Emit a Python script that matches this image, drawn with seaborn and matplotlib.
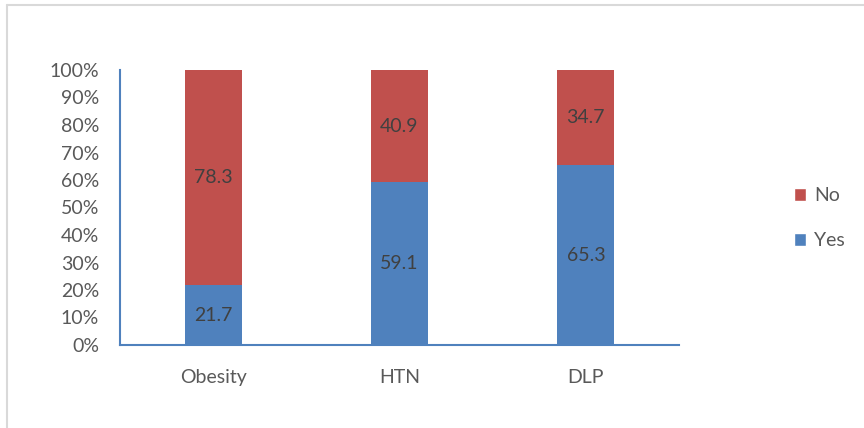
import matplotlib
matplotlib.use("Agg")
import matplotlib.pyplot as plt
from matplotlib.lines import Line2D
from matplotlib.patches import Patch
import seaborn as sns
import pandas as pd
import numpy as np

categories = ["Obesity", "HTN", "DLP"]
yes_values = [21.7, 59.1, 65.3]
no_values = [78.3, 40.9, 34.7]

BLUE = "#4F81BD"
RED = "#C0504D"
TEXT = "#595959"
LABEL = "#404040"
FS = 14

sns.set_theme(style="white")
plt.rcParams["font.family"] = ["Lato", "DejaVu Sans"]

df = pd.DataFrame({"cat": categories, "yes": yes_values, "no": no_values})
df["total"] = df["yes"] + df["no"]

fig = plt.figure(figsize=(8.64, 4.28), dpi=100)
ax = fig.add_axes([120 / 864, 1 - 345 / 428, 559 / 864, 275 / 428])

# stacked: full column in red, Yes portion drawn over it in blue
sns.barplot(data=df, x="cat", y="total", color=RED, width=0.306, saturation=1,
            ax=ax, linewidth=0)
sns.barplot(data=df, x="cat", y="yes", color=BLUE, width=0.306, saturation=1,
            ax=ax, linewidth=0)

for i, (y, n) in enumerate(zip(yes_values, no_values)):
    ax.text(i, y / 2, f"{y:.1f}", ha="center", va="center", fontsize=FS, color=LABEL)
    ax.text(i, y + n / 2, f"{n:.1f}", ha="center", va="center", fontsize=FS, color=LABEL)

ax.set_xlim(-0.5, 2.5)
ax.set_ylim(0, 100)
ax.set_yticks(np.arange(0, 101, 10))
ax.set_yticklabels([f"{v}%" for v in range(0, 101, 10)])
ax.set_xlabel("")
ax.set_ylabel("")
ax.tick_params(axis="both", length=0, labelsize=FS, colors=TEXT)
ax.tick_params(axis="x", pad=17)
ax.tick_params(axis="y", pad=15)

for side in ["top", "right"]:
    ax.spines[side].set_visible(False)
for side in ["left", "bottom"]:
    ax.spines[side].set_color(BLUE)
    ax.spines[side].set_linewidth(1.5)

handles = [Patch(facecolor=RED, label="No"), Patch(facecolor=BLUE, label="Yes")]
fig.legend(handles=handles, loc="center left", bbox_to_anchor=(776 / 864, 1 - 218 / 428),
           frameon=False, fontsize=FS, handlelength=0.65, handleheight=0.65,
           handletextpad=0.4, labelspacing=1.45, labelcolor=TEXT)

# light frame around the chart area
fig.add_artist(Line2D([7 / 864, 1], [1 - 5 / 428, 1 - 5 / 428], color="#D9D9D9", lw=1.5,
                      transform=fig.transFigure))
fig.add_artist(Line2D([7 / 864, 7 / 864], [0, 1 - 5 / 428], color="#D9D9D9", lw=1.5,
                      transform=fig.transFigure))

fig.savefig("out.png", dpi=100, facecolor="white")
